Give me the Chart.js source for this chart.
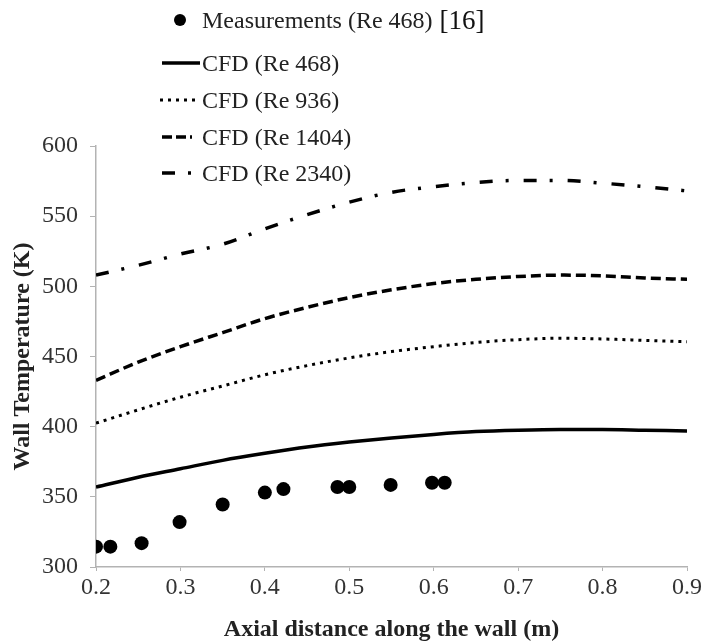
<!DOCTYPE html>
<html>
<head>
<meta charset="utf-8">
<script src="https://cdn.jsdelivr.net/npm/chart.js@4.4.0/dist/chart.umd.min.js"></script>
<style>
  html, body { margin: 0; padding: 0; background: #fff; }
  #wrap { position: relative; width: 704px; height: 644px; }
  #legend { position: absolute; left: 0; top: 0; font-family: "Liberation Serif", "Times New Roman", serif; font-size: 24px; color: #222; }
  .row { position: absolute; left: 158px; height: 30px; display: flex; align-items: center; white-space: nowrap; }
  .row svg { width: 44px; height: 30px; flex: none; }
  .ref { font-size: 27px; color: #111; margin-left: 7px; }
</style>
</head>
<body>
<div id="wrap">
  <canvas id="chart" width="704" height="644"></canvas>
  <div id="legend">
    <div class="row" style="top:5px">
      <svg><circle cx="22" cy="15" r="6" fill="#000"/></svg><span>Measurements (Re 468)</span><span class="ref">[16]</span>
    </div>
    <div class="row" style="top:48px">
      <svg><line x1="4" y1="15" x2="42" y2="15" stroke="#000" stroke-width="3.5"/></svg><span>CFD (Re 468)</span>
    </div>
    <div class="row" style="top:85px">
      <svg><line x1="2" y1="15" x2="42" y2="15" stroke="#000" stroke-width="3" stroke-dasharray="3 5"/></svg><span>CFD (Re 936)</span>
    </div>
    <div class="row" style="top:122px">
      <svg><line x1="4" y1="15" x2="34" y2="15" stroke="#000" stroke-width="3.5" stroke-dasharray="10 4"/></svg><span>CFD (Re 1404)</span>
    </div>
    <div class="row" style="top:158px">
      <svg><line x1="4" y1="15" x2="34" y2="15" stroke="#000" stroke-width="3.5" stroke-dasharray="13 13 3 15"/></svg><span>CFD (Re 2340)</span>
    </div>
  </div>
</div>
<script>
// ---------- DATA ----------

const xTicks = [0.2, 0.3, 0.4, 0.5, 0.6, 0.7, 0.8, 0.9];
const yTicks = [300, 350, 400, 450, 500, 550, 600];

// measurements (Re 468) [16]
const measX = [0.2, 0.217, 0.254, 0.299, 0.35, 0.4, 0.422, 0.486, 0.5, 0.549, 0.598, 0.613];
const measY = [314.5, 314.5, 317, 332, 344.5, 353, 355.5, 357, 357, 358.5, 360, 360];

// CFD curves, read every 0.05 m
const cfdX = [0.2, 0.25, 0.3, 0.35, 0.4, 0.45, 0.5, 0.55, 0.6, 0.65, 0.7, 0.75, 0.8, 0.85, 0.9];
const cfd468 = [357, 364, 370, 376, 381, 385.5, 389, 392, 394.5, 396.5, 397.5, 398, 398, 397.5, 397];
const cfd936 = [402.5, 412, 421, 429, 437, 443.5, 449, 453.5, 457, 460, 462, 463, 462.5, 461.5, 460.5];
const cfd1404 = [433, 446, 457, 467, 477, 485, 492, 497.5, 502, 505, 507, 508, 507.5, 506, 505];
const cfd2340 = [508, 515, 523, 530, 541, 551, 560, 567, 571, 574, 575.5, 575.5, 573.5, 571, 568];

function pts(xs, ys) {
  return xs.map((x, i) => ({ x: x, y: ys[i] }));
}

function curve(label, ys, dash, width) {
  return {
    label: label,
    data: pts(cfdX, ys),
    showLine: true,
    borderColor: '#000',
    backgroundColor: '#000',
    borderWidth: width,
    borderDash: dash,
    borderCapStyle: 'butt',
    pointRadius: 0,
    cubicInterpolationMode: 'monotone',
    fill: false
  };
}

const serif = '"Liberation Serif", "Times New Roman", serif';
const axisGray = '#b3b3b3';

// ---------- CHART ----------

var ctx = document.getElementById('chart').getContext('2d');
var chart = new Chart(ctx, {
  type: 'scatter',
  data: {
    datasets: [
      {
        label: 'Measurements (Re 468) [16]',
        data: pts(measX, measY),
        pointRadius: 7,
        pointBackgroundColor: '#000',
        pointBorderColor: '#000',
        pointBorderWidth: 0,
        showLine: false
      },
      curve('CFD (Re 468)', cfd468, [], 3.5),
      curve('CFD (Re 936)', cfd936, [3, 5], 3),
      curve('CFD (Re 1404)', cfd1404, [10, 5], 3.5),
      curve('CFD (Re 2340)', cfd2340, [13, 13, 3, 15], 3.5)
    ]
  },
  options: {
    responsive: false,
    animation: false,
    layout: { padding: { top: 146, right: 15, left: 0, bottom: 0 } },
    plugins: {
      legend: { display: false },
      tooltip: { enabled: false }
    },
    scales: {
      x: {
        type: 'linear',
        min: 0.2,
        max: 0.9,
        afterBuildTicks: (s) => { s.ticks = xTicks.map(v => ({ value: v })); },
        afterFit: (s) => { s.height = 77; },
        border: { color: axisGray, width: 1.5 },
        grid: { drawOnChartArea: false, tickLength: 4, color: axisGray },
        ticks: {
          padding: 2,
          color: '#333',
          font: { family: serif, size: 24 },
          callback: (v) => v.toFixed(1)
        },
        title: {
          display: true,
          text: 'Axial distance along the wall (m)',
          color: '#222',
          font: { family: serif, size: 24, weight: 'bold' },
          padding: { top: 0, bottom: 0 }
        }
      },
      y: {
        min: 300,
        max: 600,
        afterBuildTicks: (s) => { s.ticks = yTicks.map(v => ({ value: v })); },
        afterFit: (s) => { s.width = 96; },
        border: { color: axisGray, width: 1.5 },
        grid: { drawOnChartArea: false, tickLength: 6, color: axisGray },
        ticks: {
          padding: 12,
          color: '#333',
          font: { family: serif, size: 24 }
        },
        title: {
          display: true,
          text: 'Wall Temperature (K)',
          color: '#222',
          font: { family: serif, size: 24, weight: 'bold' },
          padding: { top: 8, bottom: 0 }
        }
      }
    }
  },
  plugins: [{
    id: 'whiteBg',
    beforeDraw: (c) => {
      const g = c.ctx;
      g.save();
      g.fillStyle = '#fff';
      g.fillRect(0, 0, c.width, c.height);
      g.restore();
    }
  }]
});
</script>
</body>
</html>
